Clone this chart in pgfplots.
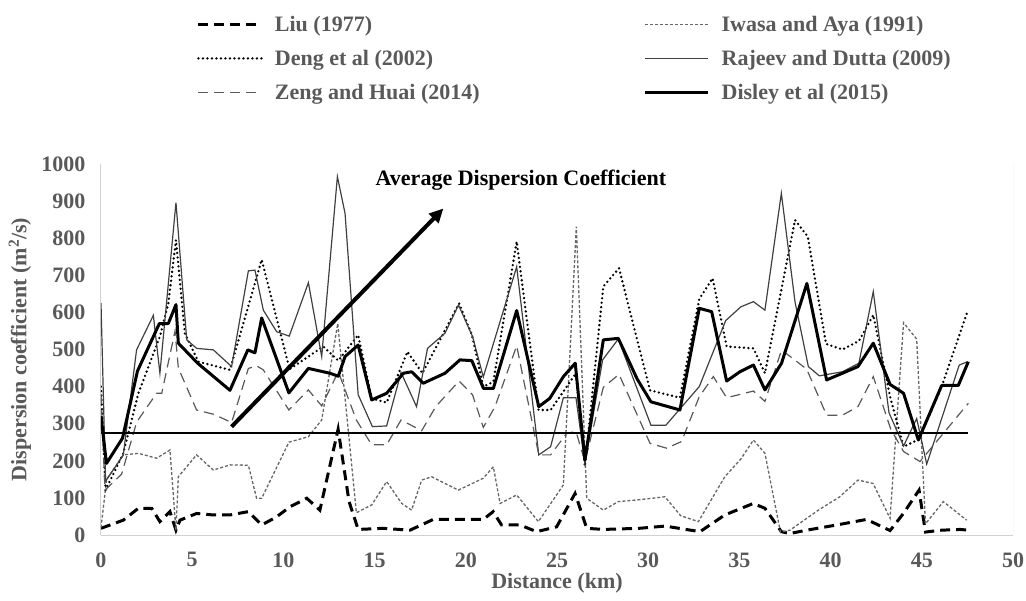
\documentclass[border=0pt]{standalone}
\usepackage{pgfplots}
\pgfplotsset{compat=1.18}
\usepackage{fontspec}
\setmainfont{Liberation Serif}
\usetikzlibrary{arrows.meta}

\newcommand\chartfont{\fontsize{22bp}{26bp}\selectfont\bfseries}

\begin{document}
\begin{tikzpicture}
\path[use as bounding box] (-101bp,-66bp) rectangle (925bp,535bp);
\begin{axis}[
  at={(0,0)}, anchor=south west,
  scale only axis, width=912bp, height=371bp,
  xmin=0, xmax=50, ymin=0, ymax=1000,
  xtick={0,5,...,50}, ytick={0,100,...,1000},
  axis x line*=bottom, axis y line*=left,
  axis line style={draw=black!18, line width=1bp},
  major tick length=0pt,
  /pgf/number format/1000 sep={},
  /pgf/number format/assume math mode=true,
  tick label style={font=\chartfont, text=black!65},
  xticklabel style={yshift=-14bp},
  yticklabel style={xshift=-12bp},
  xlabel={Distance (km)},
  ylabel={Dispersion coefficient (m\textsuperscript{2}/s)},
  label style={font=\chartfont, text=black!65},
  xlabel style={at={(axis description cs:0.5,-0.129)}, anchor=center},
  ylabel style={at={(axis description cs:-0.089,0.5)}, anchor=center},
  legend columns=2,
  legend cell align=left,
  legend image code/.code={\draw[#1] (0bp,0bp) -- (63bp,0bp);},
  legend style={
    at={(axis description cs:0.105,1.404)}, anchor=north west,
    draw=none, fill=none, inner sep=0pt,
    font=\chartfont, text=black!65,
    row sep=13bp,
    /tikz/every odd column/.append style={column sep=10bp},
    /tikz/every even column/.append style={column sep=162bp},
  },
]
% Liu (1977)
\addplot[black, line width=3bp, dash pattern=on 10bp off 6bp] coordinates {
(0,18) (1.22,40) (2.05,72) (2.78,72) (3.23,36) (3.78,63) (4.11,13) (4.33,40)
(5.24,58) (6.16,54) (7.07,54) (8.08,63) (8.81,27) (9.63,49) (10.36,76) (11.28,99)
(12.0,67) (13.0,285) (13.6,90) (14.1,15) (15.47,18) (16.94,13) (18.22,42) (20.96,42)
(21.5,63) (21.96,27) (22.97,27) (23.88,9) (24.98,22) (25.99,112) (26.63,18) (27.54,15)
(29.5,18) (30.92,24) (32.84,9) (34.2,54) (35.76,85) (36.4,72) (37.3,9) (37.76,4)
(38.69,13) (40.33,27) (41.97,42) (43.26,12) (43.99,58) (44.85,121) (45.2,8) (46.09,13)
(47.1,15) (47.55,13)};
% Iwasa and Aya (1991)
\addplot[black!60, line width=1.3bp, dash pattern=on 3bp off 2bp] coordinates {
(0,20) (0.31,150) (1.22,216) (2.05,220) (3.05,207) (3.78,229) (4.11,13) (4.24,157)
(5.24,216) (6.16,175) (7.07,189) (8.08,188) (8.53,99) (8.81,99) (10.3,250) (11.37,265)
(12.1,310) (12.98,570) (14.0,60) (14.84,81) (15.66,144) (16.49,85) (17.03,67) (17.58,148)
(18.13,157) (19.59,121) (20.96,153) (21.51,184) (21.88,85) (22.79,108) (23.98,36) (25.35,135)
(26.06,831) (26.63,99) (27.54,67) (28.36,90) (29.5,95) (30.92,103) (31.78,52) (32.75,36)
(34.2,157) (35.08,205) (35.77,256) (36.4,220) (37.25,8) (37.77,13) (39.33,67) (40.5,103)
(41.5,148) (42.33,139) (43.26,45) (44.0,572) (44.72,528) (45.2,30) (46.18,90) (47.46,40)};
% Deng et al (2002)
\addplot[black, line width=2.6bp, line cap=round, dash pattern=on 0bp off 4.5bp] coordinates {
(0,400) (0.25,121) (1.22,220) (2.05,382) (3.23,535) (3.69,624) (4.11,795) (4.6,543)
(5.34,467) (7.07,445) (8.81,742) (10.34,447) (12.19,508) (13.01,470) (14.1,539) (14.84,368)
(15.66,357) (16.8,494) (17.62,436) (19.63,624) (20.33,540) (20.96,400) (21.51,413) (22.79,791)
(23.99,337) (24.65,337) (26.04,436) (26.53,185) (27.54,670) (28.4,719) (30.1,390) (31.74,370)
(32.8,636) (33.53,692) (34.3,508) (35.77,503) (36.4,436) (38.05,849) (38.75,804) (39.75,515)
(40.65,500) (41.55,523) (42.34,593) (43.26,373) (44.0,238) (44.85,258) (46.09,400) (47.5,602)};
% Rajeev and Dutta (2009)
\addplot[black!75, line width=1.2bp] coordinates {
(0,625) (0.25,145) (1.22,215) (1.95,499) (2.87,592) (3.23,436) (4.11,896) (4.7,526)
(5.25,503) (6.16,499) (7.16,454) (8.08,712) (8.44,714) (8.9,606) (9.63,548) (10.32,536)
(11.37,680) (12.1,481) (12.96,966) (13.38,867) (14.1,378) (14.88,292) (15.66,294) (16.45,438)
(17.3,346) (17.9,503) (18.86,544) (19.6,620) (20.37,535) (20.96,426) (22.79,723) (24.0,216)
(24.65,238) (25.35,370) (26.04,370) (26.53,193) (27.5,472) (28.36,528) (30.15,296) (30.97,296)
(32.8,400) (34.25,578) (35.08,615) (35.77,629) (36.4,606) (37.3,921) (38.05,628) (38.78,454)
(39.38,429) (40.65,440) (41.55,463) (42.34,656) (43.2,330) (44.0,240) (44.72,314) (45.27,191)
(47.05,458) (47.5,467)};
% Zeng and Huai (2014)
\addplot[black!65, line width=1.2bp, dash pattern=on 10bp off 6bp] coordinates {
(0,380) (0.22,121) (1.13,164) (1.96,305) (3.05,382) (3.33,382) (4.06,550) (4.24,450)
(5.24,337) (6.2,325) (7.16,303) (8.08,449) (8.53,456) (8.9,445) (10.3,337) (11.37,391)
(12.1,348) (13.01,440) (14.0,310) (14.84,243) (15.66,243) (16.45,310) (17.58,281) (18.35,346)
(19.63,415) (20.37,378) (20.96,290) (21.6,346) (22.79,510) (24.0,216) (24.65,216) (25.53,274)
(26.04,279) (26.53,198) (27.54,398) (28.4,433) (30.1,247) (31.01,234) (31.83,252) (32.8,373)
(33.57,427) (34.3,370) (35.77,388) (36.4,360) (37.31,499) (38.69,447) (39.78,323) (40.65,323)
(41.5,346) (42.34,427) (43.3,285) (44.0,225) (44.9,198) (47.55,355)};
% Disley et al (2015)
\addplot[black, line width=3bp, line join=round] coordinates {
(0,320) (0.3,193) (1.18,261) (2.0,442) (3.2,570) (3.69,570) (4.11,621) (4.24,517)
(5.3,463) (7.07,390) (8.05,499) (8.44,491) (8.81,585) (10.3,383) (11.37,449) (12.55,436)
(13.01,428) (13.38,481) (14.1,512) (14.84,364) (15.66,382) (16.58,436) (17.03,440) (17.67,409)
(18.86,436) (19.68,472) (20.33,470) (20.97,395) (21.51,395) (22.79,605) (24.0,346) (24.6,368)
(25.35,427) (26.0,463) (26.53,202) (27.54,526) (28.36,530) (29.4,420) (30.15,359) (31.74,337)
(32.8,611) (33.48,602) (34.3,415) (35.03,440) (35.77,458) (36.4,391) (37.31,463) (38.7,678)
(39.78,418) (40.65,436) (41.5,454) (42.34,517) (43.26,406) (44.0,382) (44.81,256) (46.09,403)
(47.0,403) (47.55,467)};
\legend{Liu (1977), Iwasa and Aya (1991), Deng et al (2002), Rajeev and Dutta (2009), Zeng and Huai (2014), Disley et al (2015)}
% average dispersion coefficient
\addplot[black, line width=1.5bp, forget plot] coordinates {(0,275) (47.55,275)};
\draw[black!18, line width=1bp] (rel axis cs:1,0) -- (rel axis cs:1,1);
\draw[-{Triangle[length=14bp,width=13bp]}, line width=4bp] (axis cs:7.16,292) -- (axis cs:18.77,880);
\node[font=\chartfont, anchor=west, inner sep=0pt] at (axis cs:15.05,957) {Average Dispersion Coefficient};
\end{axis}
\end{tikzpicture}
\end{document}
